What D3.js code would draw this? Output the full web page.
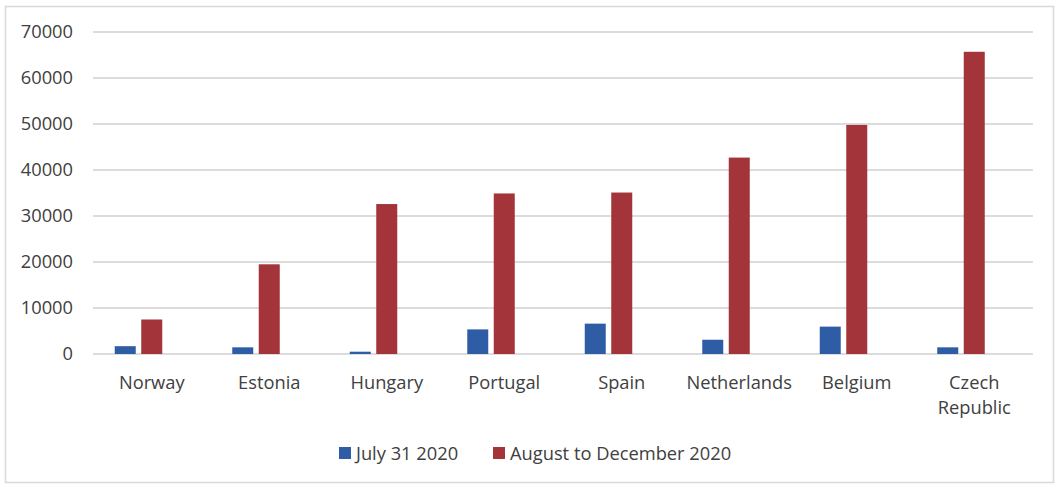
<!DOCTYPE html>
<html>
<head>
<meta charset="utf-8">
<script src="https://cdn.jsdelivr.net/npm/d3@7/dist/d3.min.js"></script>
<style>
  html, body { margin: 0; padding: 0; background: #fff; }
  svg { display: block; font-family: "Open Sans", "Noto Sans", sans-serif; }
</style>
</head>
<body>
<svg id="chart" width="1057" height="485"></svg>
<script>
const categories = ["Norway", "Estonia", "Hungary", "Portugal", "Spain", "Netherlands", "Belgium", "Czech Republic"];
const seriesNames = ["July 31 2020", "August to December 2020"];
const july31 = [1700, 1450, 500, 5350, 6600, 3100, 5950, 1450];
const augDec = [7500, 19500, 32600, 34900, 35100, 42700, 49800, 65700];
const yTicks = [0, 10000, 20000, 30000, 40000, 50000, 60000, 70000];
const colors = ["#2E5DA6", "#A3353A"];

const svg = d3.select("#chart");
const plot = { left: 93, right: 1033, top: 32, bottom: 354 };
const FS = 18.3;

// outer frame
svg.append("rect").attr("x", 5.5).attr("y", 6.5).attr("width", 1048).attr("height", 476)
  .attr("fill", "#fff").attr("stroke", "#D9D9D9").attr("stroke-width", 1.5);

const x = d3.scaleBand().domain(categories).range([plot.left, plot.right]).padding(0);
const y = d3.scaleLinear().domain([0, 70000]).range([plot.bottom, plot.top]);

// gridlines
svg.append("g").selectAll("line").data(yTicks).join("line")
  .attr("x1", plot.left).attr("x2", plot.right)
  .attr("y1", d => y(d)).attr("y2", d => y(d))
  .attr("stroke", "#D0D0D0").attr("stroke-width", 1.5);

// y axis labels
const yAxis = d3.axisLeft(y).tickValues(yTicks).tickSize(0).tickPadding(0).tickFormat(d3.format("d"));
const ya = svg.append("g").attr("transform", `translate(73,0)`).call(yAxis);
ya.select(".domain").remove();
ya.selectAll("text").attr("font-size", FS).attr("fill", "#404040")
  .attr("font-family", "'Open Sans', 'Noto Sans', sans-serif");

// bars: Excel-style cluster with three slots (third slot empty)
const slots = d3.scaleBand().domain([0, 1, 2]).range([-39.75, 39.75]);
const barW = 21;
const series = [july31, augDec];
series.forEach((vals, si) => {
  svg.append("g").selectAll("rect").data(categories).join("rect")
    .attr("x", (c) => x(c) + x.bandwidth() / 2 + slots(si) + (slots.bandwidth() - barW) / 2)
    .attr("width", barW)
    .attr("y", (c, i) => y(vals[i]))
    .attr("height", (c, i) => y(0) - y(vals[i]))
    .attr("fill", colors[si]);
});

// x labels
const xl = svg.append("g");
categories.forEach(c => {
  const words = c === "Czech Republic" ? ["Czech", "Republic"] : [c];
  const t = xl.append("text")
    .attr("x", x(c) + x.bandwidth() / 2)
    .attr("y", 389)
    .attr("text-anchor", "middle")
    .attr("font-size", FS)
    .attr("fill", "#404040");
  words.forEach((w, i) => {
    t.append("tspan").attr("x", x(c) + x.bandwidth() / 2).attr("dy", i === 0 ? 0 : 25).text(w);
  });
});

// legend
const legendItems = [
  { name: seriesNames[0], color: colors[0], sx: 339, tx: 356 },
  { name: seriesNames[1], color: colors[1], sx: 493, tx: 510 }
];
const lg = svg.append("g");
legendItems.forEach(it => {
  lg.append("rect").attr("x", it.sx).attr("y", 447).attr("width", 12).attr("height", 12).attr("fill", it.color);
  lg.append("text").attr("x", it.tx).attr("y", 459.5).attr("font-size", FS).attr("fill", "#404040").text(it.name);
});
</script>
</body>
</html>
